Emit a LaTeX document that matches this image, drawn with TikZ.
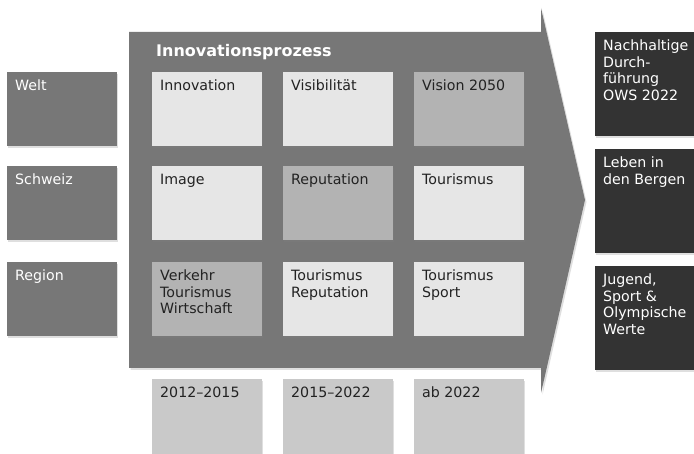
\documentclass[tikz,border=0pt]{standalone}
\usepackage{fontspec}
\setmainfont{DejaVu Sans}
\usetikzlibrary{shadows}
\definecolor{arrowgray}{HTML}{777777}
\definecolor{lightbox}{HTML}{E6E6E6}
\definecolor{midbox}{HTML}{B3B3B3}
\definecolor{yearbox}{HTML}{C9C9C9}
\definecolor{darkbox}{HTML}{333333}
\definecolor{textdark}{HTML}{222222}
\begin{document}
\begin{tikzpicture}[x=1pt, y=-1pt,
    tile/.style={anchor=north west, minimum width=110pt, minimum height=74pt, inner sep=0pt, fill=#1,
        drop shadow={shadow xshift=1pt, shadow yshift=-1.5pt, opacity=0.25}},
    lbl/.style={anchor=north west, inner xsep=8pt, inner ysep=8pt, align=left,
        font=\fontsize{14.2pt}{16.5pt}\selectfont, text=textdark}]
    \useasboundingbox (0,0) rectangle (694,454);

    % big process arrow
    \fill[arrowgray, drop shadow={shadow xshift=1.5pt, shadow yshift=-2pt, opacity=0.25}]
        (129,32) -- (541,32) -- (541,8) -- (585,200) -- (541,393) -- (541,368) -- (129,368) -- cycle;
    \node[anchor=base west, inner sep=0pt, text=white, font=\fontsize{16pt}{18pt}\selectfont\bfseries] (title) at (156,57) {Innovationsprozess};

    % levels
    \node[tile=arrowgray, label={[lbl, text=white]north west:Welt}] (welt) at (7,72) {};
    \node[tile=arrowgray, label={[lbl, text=white]north west:Schweiz}] (schweiz) at (7,166) {};
    \node[tile=arrowgray, label={[lbl, text=white]north west:Region}] (region) at (7,262) {};

    % matrix
    \node[tile=lightbox, label={[lbl]north west:Innovation}] (innovation) at (152,72) {};
    \node[tile=lightbox, label={[lbl]north west:Visibilität}] (visibilitaet) at (283,72) {};
    \node[tile=midbox, label={[lbl]north west:Vision 2050}] (vision) at (414,72) {};
    \node[tile=lightbox, label={[lbl]north west:Image}] (image) at (152,166) {};
    \node[tile=midbox, label={[lbl]north west:Reputation}] (reputation) at (283,166) {};
    \node[tile=lightbox, label={[lbl]north west:Tourismus}] (tourismus) at (414,166) {};
    \node[tile=midbox, label={[lbl]north west:{Verkehr\\Tourismus\\Wirtschaft}}] (verkehr) at (152,262) {};
    \node[tile=lightbox, label={[lbl]north west:{Tourismus\\Reputation}}] (tourrep) at (283,262) {};
    \node[tile=lightbox, label={[lbl]north west:{Tourismus\\Sport}}] (toursport) at (414,262) {};

    % periods
    \node[tile=yearbox, minimum height=75pt, label={[lbl]north west:2012–2015}] (phase1) at (152,379) {};
    \node[tile=yearbox, minimum height=75pt, label={[lbl]north west:2015–2022}] (phase2) at (283,379) {};
    \node[tile=yearbox, minimum height=75pt, label={[lbl]north west:ab 2022}] (phase3) at (414,379) {};

    % goals
    \node[tile=darkbox, minimum width=99pt, minimum height=104pt, label={[lbl, text=white]north west:{Nachhaltige\\Durch-\\führung\\OWS 2022}}] (ows) at (595,32) {};
    \node[tile=darkbox, minimum width=99pt, minimum height=104pt, label={[lbl, text=white]north west:{Leben in\\den Bergen}}] (berge) at (595,149) {};
    \node[tile=darkbox, minimum width=99pt, minimum height=104pt, label={[lbl, text=white]north west:{Jugend,\\Sport \&\\Olympische\\Werte}}] (jugend) at (595,266) {};
\end{tikzpicture}
\end{document}
